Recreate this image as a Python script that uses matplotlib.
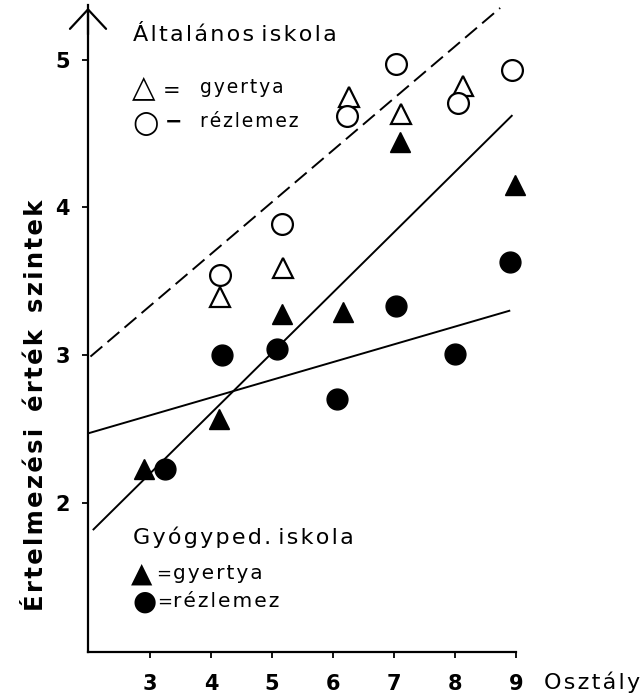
import matplotlib
matplotlib.use("Agg")
import matplotlib.pyplot as plt

# Általános iskola (open markers)
alt_gyertya_x = [4.15, 5.18, 6.26, 7.11, 8.13]
alt_gyertya_y = [3.39, 3.59, 4.75, 4.63, 4.82]
alt_rez_x = [4.15, 5.16, 6.23, 7.03, 8.05, 8.93]
alt_rez_y = [3.54, 3.89, 4.62, 4.97, 4.71, 4.93]

# Gyógyped. iskola (filled markers)
gyp_gyertya_x = [2.90, 4.13, 5.16, 6.16, 7.10, 8.98]
gyp_gyertya_y = [2.23, 2.57, 3.28, 3.29, 4.44, 4.15]
gyp_rez_x = [3.25, 4.18, 5.08, 6.07, 7.03, 8.00, 8.90]
gyp_rez_y = [2.23, 3.00, 3.04, 2.70, 3.33, 3.01, 3.63]

# fitted lines (end points)
dash_x = [2.02, 8.74]
dash_y = [2.99, 5.35]
steep_x = [2.07, 8.93]
steep_y = [1.82, 4.62]
flat_x = [1.98, 8.89]
flat_y = [2.47, 3.30]

xticks = [3, 4, 5, 6, 7, 8, 9]
yticks = [2, 3, 4, 5]


def spaced(s, sp='\u200a'):
    # typewriter-like letter spacing
    return ' '.join(sp.join(w) for w in s.split(' '))


fig = plt.figure(figsize=(6.41, 6.96), dpi=100)
ax = fig.add_axes([0.1373, 0.0632, 0.6677, 0.9296])

ax.plot(dash_x, dash_y, color='black', lw=1.4, dashes=(8, 3.5))
ax.plot(steep_x, steep_y, color='black', lw=1.4)
ax.plot(flat_x, flat_y, color='black', lw=1.4)

ax.plot(alt_gyertya_x, alt_gyertya_y, '^', ms=14, mfc='white', mec='black', mew=1.6, ls='none', clip_on=False)
ax.plot(alt_rez_x, alt_rez_y, 'o', ms=15, mfc='white', mec='black', mew=1.6, ls='none', clip_on=False)
ax.plot(gyp_gyertya_x, gyp_gyertya_y, '^', ms=15, mfc='black', mec='black', ls='none', clip_on=False)
ax.plot(gyp_rez_x, gyp_rez_y, 'o', ms=15, mfc='black', mec='black', ls='none', clip_on=False)

ax.set_xlim(1.98, 9.0)
ax.set_ylim(0.99, 5.37)
ax.spines['top'].set_visible(False)
ax.spines['right'].set_visible(False)
ax.spines['left'].set_linewidth(1.6)
ax.spines['bottom'].set_linewidth(1.6)
ax.set_xticks(xticks)
ax.set_yticks(yticks)
ax.tick_params(direction='out', length=4, width=1.3, labelsize=15)
ax.tick_params(axis='x', pad=12)
ax.tick_params(axis='y', pad=9)
for lab in ax.get_xticklabels() + ax.get_yticklabels():
    lab.set_fontweight('bold')

# arrow head on the y axis
ax.annotate('', xy=(0, 1.0), xytext=(0, 0.95), xycoords='axes fraction',
            arrowprops=dict(arrowstyle='->, head_length=1.4, head_width=1.3', lw=1.6, color='black'))

# legend blocks written as text
ax.text(2.72, 5.17, spaced('Általános iskola'), fontsize=16, va='center', ha='left')
ax.text(2.70, 4.81, '△', fontsize=22, va='center', ha='left')
ax.text(3.21, 4.79, '=', fontsize=15, va='center', ha='left')
ax.text(3.82, 4.81, spaced('gyertya'), fontsize=13.5, va='center', ha='left')
ax.text(2.70, 4.57, '○', fontsize=22, va='center', ha='left')
ax.text(3.24, 4.58, '−', fontsize=15, va='center', ha='left', fontweight='bold')
ax.text(3.82, 4.58, spaced('rézlemez'), fontsize=13.5, va='center', ha='left')

ax.text(2.72, 1.77, spaced('Gyógyped. iskola'), fontsize=16, va='center', ha='left')
ax.text(2.69, 1.52, '▲', fontsize=20, va='center', ha='left')
ax.text(3.10, 1.52, '=', fontsize=13, va='center', ha='left')
ax.text(3.37, 1.52, spaced('gyertya'), fontsize=14.5, va='center', ha='left')
ax.text(2.71, 1.33, '●', fontsize=20, va='center', ha='left')
ax.text(3.12, 1.33, '=', fontsize=13, va='center', ha='left')
ax.text(3.37, 1.33, spaced('rézlemez'), fontsize=14.5, va='center', ha='left')

fig.text(0.056, 0.418, spaced('Értelmezési  érték  szintek'), rotation=90, fontsize=17.5,
         fontweight='bold', ha='center', va='center')
fig.text(0.849, 0.02, spaced('Osztály'), fontsize=16, ha='left', va='center')

fig.savefig('out.png', dpi=100)
